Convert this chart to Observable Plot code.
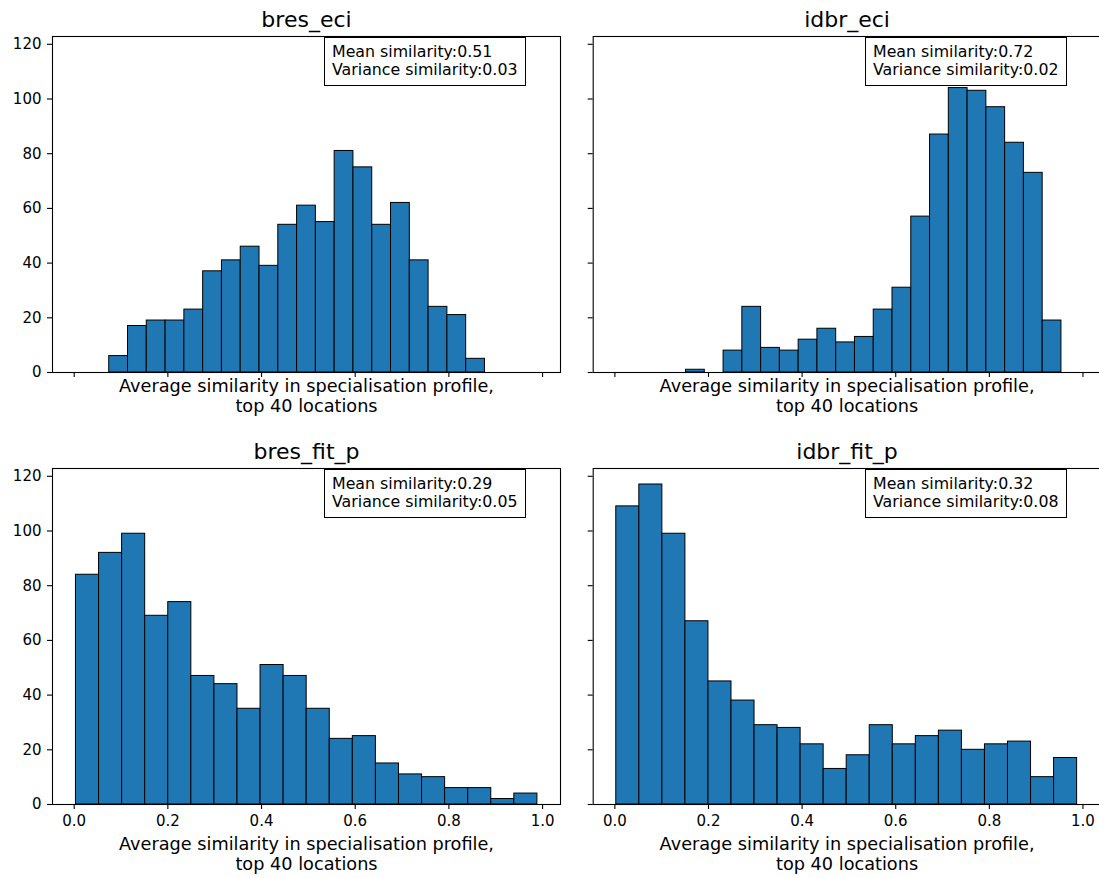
<!DOCTYPE html>
<html>
<head>
<meta charset="utf-8">
<script src="https://cdn.jsdelivr.net/npm/d3@7"></script>
<script src="https://cdn.jsdelivr.net/npm/@observablehq/plot@0.6"></script>
<style>
  html, body { margin: 0; padding: 0; background: #fff; overflow: hidden; }
  #fig { position: relative; width: 1099px; height: 878px; overflow: hidden; font-family: "DejaVu Sans", sans-serif; background: #fff; }
  .panel { position: absolute; }
  .statbox { position: absolute; border: 1.2px solid #000; background: #fff; padding: 5px 7px 6px 7px;
             font-family: "DejaVu Sans", sans-serif; font-size: 15.8px; line-height: 18px; white-space: pre; color: #000; }
</style>
</head>
<body>
<div id="fig"></div>
<script>
// ---- data ----
const panelTitles = ["bres_eci", "idbr_eci", "bres_fit_p", "idbr_fit_p"];
// [first bin edge, last bin edge] of each 20-bin histogram
const binRanges = [[0.0748, 0.877], [0.152, 0.954], [0.0038, 0.989], [0.003, 0.9875]];
const bresEciCounts  = [6, 17, 19, 19, 23, 37, 41, 46, 39, 54, 61, 55, 81, 75, 54, 62, 41, 24, 21, 5];
const idbrEciCounts  = [1, 0, 8, 24, 9, 8, 12, 16, 11, 13, 23, 31, 57, 87, 104, 103, 97, 84, 73, 19];
const bresFitPCounts = [84, 92, 99, 69, 74, 47, 44, 35, 51, 47, 35, 24, 25, 15, 11, 10, 6, 6, 2, 4];
const idbrFitPCounts = [109, 117, 99, 67, 45, 38, 29, 28, 22, 13, 18, 29, 22, 25, 27, 20, 22, 23, 10, 17];
const meanSimilarity = ["0.51", "0.72", "0.29", "0.32"];
const varianceSimilarity = ["0.03", "0.02", "0.05", "0.08"];
const xTicks = [0.0, 0.2, 0.4, 0.6, 0.8, 1.0];
const yTicks = [0, 20, 40, 60, 80, 100, 120];
const xLabel = "Average similarity in specialisation profile,\ntop 40 locations";

const countsList = [bresEciCounts, idbrEciCounts, bresFitPCounts, idbrFitPCounts];

// ---- shared scales (matplotlib-like 5% margins on x, sharey) ----
const allLo = d3.min(binRanges, r => r[0]);
const allHi = d3.max(binRanges, r => r[1]);
const xPad = 0.05 * (allHi - allLo);
const xDomain = [allLo - xPad, allHi + xPad];
const yDomain = [0, d3.max(countsList.flat()) * 1.05];

// ---- layout of the 2x2 grid ----
const layout = [
  {left: 0,   top: 0,   width: 562, height: 430, ml: 52,   mr: 2,   mt: 36, mb: 58, showX: false, showY: true,  labelDy: 39,  box: [324, 36.7]},
  {left: 560, top: 0,   width: 545, height: 430, ml: 32.7, mr: 4.6, mt: 36, mb: 58, showX: false, showY: false, labelDy: 39,  box: [865, 37]},
  {left: 0,   top: 430, width: 562, height: 448, ml: 52,   mr: 2,   mt: 38, mb: 74, showX: true,  showY: true,  labelDy: 65,  box: [324, 469.3]},
  {left: 560, top: 430, width: 545, height: 448, ml: 32.7, mr: 4.6, mt: 38, mb: 74, showX: true,  showY: false, labelDy: 65,  box: [865, 469.3]}
];

const fig = document.getElementById("fig");

panelTitles.forEach((title, i) => {
  const L = layout[i];
  const [lo, hi] = binRanges[i];
  const counts = countsList[i];
  const w = (hi - lo) / counts.length;
  const bins = counts.map((c, k) => ({x1: lo + k * w, x2: lo + (k + 1) * w, count: c}));

  const chart = Plot.plot({
    width: L.width,
    height: L.height,
    marginLeft: L.ml,
    marginRight: L.mr,
    marginTop: L.mt,
    marginBottom: L.mb,
    style: {background: "transparent", maxWidth: "none", fontFamily: "DejaVu Sans", fontSize: "15px", color: "#000", overflow: "visible"},
    x: {domain: xDomain, axis: null},
    y: {domain: yDomain, axis: null},
    marks: [
      Plot.rectY(bins, {x1: "x1", x2: "x2", y: "count", fill: "#1f77b4", stroke: "#000", strokeWidth: 1}),
      Plot.frame({stroke: "#000", strokeWidth: 1.1}),
      Plot.axisX({
        ticks: xTicks, tickSize: 5, tickPadding: 6, label: null, stroke: "#000", strokeWidth: 1.1,
        fontSize: 15, fill: "#000",
        tickFormat: L.showX ? d3.format(".1f") : () => ""
      }),
      Plot.axisY({
        ticks: yTicks, tickSize: 5, tickPadding: 6, label: null, stroke: "#000", strokeWidth: 1.1,
        fontSize: 15, fill: "#000",
        tickFormat: L.showY ? d3.format("d") : () => ""
      }),
      Plot.text([title], {text: d => d, frameAnchor: "top", lineAnchor: "bottom", dy: -10, fontSize: 22, fill: "#000"}),
      Plot.text([xLabel], {text: d => d, frameAnchor: "bottom", lineAnchor: "bottom", dy: L.labelDy, fontSize: 17.7, lineHeight: 1.08, fill: "#000"})
    ]
  });
  chart.classList.add("panel");
  chart.style.left = L.left + "px";
  chart.style.top = L.top + "px";
  fig.appendChild(chart);

  const box = document.createElement("div");
  box.className = "statbox";
  box.style.left = L.box[0] + "px";
  box.style.top = L.box[1] + "px";
  box.textContent = `Mean similarity:${meanSimilarity[i]}\nVariance similarity:${varianceSimilarity[i]}`;
  fig.appendChild(box);
});
</script>
</body>
</html>
